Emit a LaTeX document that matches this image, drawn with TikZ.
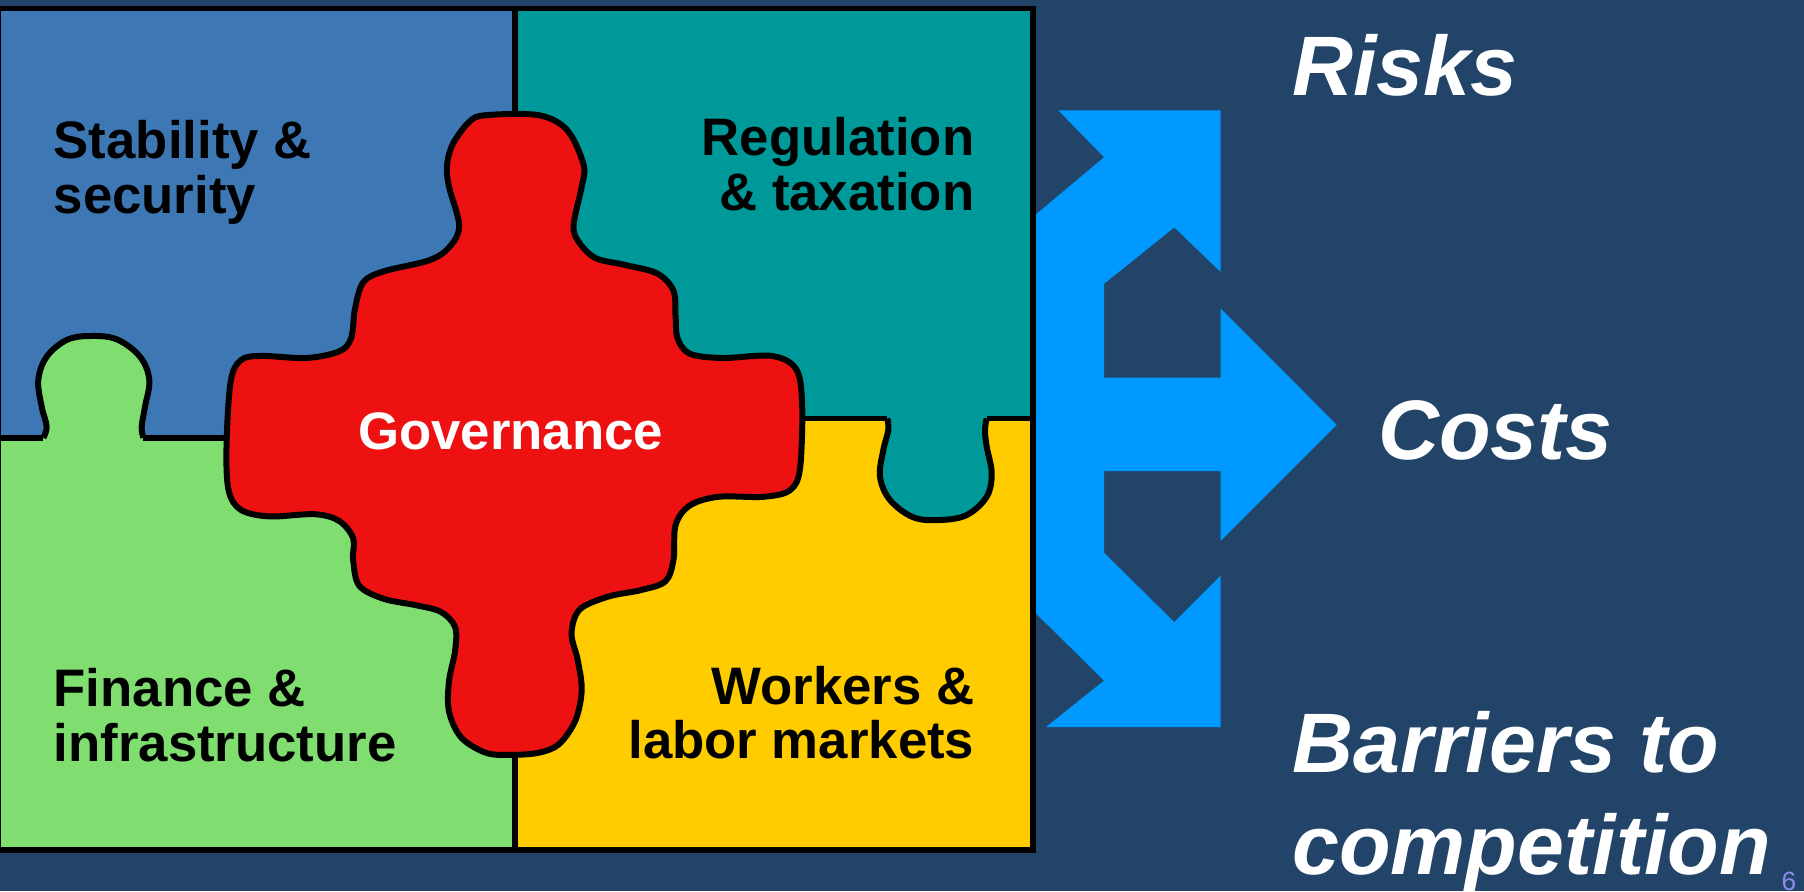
\documentclass[tikz,border=0pt]{standalone}
\usepackage{fontspec}
\setmainfont{Liberation Sans}
\usepackage{tikz}
\usetikzlibrary{positioning}
\definecolor{slide}{RGB}{34,68,104}
\definecolor{stabblue}{RGB}{62,120,180}
\definecolor{regteal}{RGB}{0,153,153}
\definecolor{fingreen}{RGB}{128,221,112}
\definecolor{workyellow}{RGB}{255,204,0}
\definecolor{govred}{RGB}{238,17,17}
\definecolor{flowblue}{RGB}{0,153,255}
\definecolor{pagenum}{RGB}{140,140,240}
\tikzset{
  every node/.style={
    inner sep=0pt
  },
  piece/.style={
    draw=black,
    line width=1.7pt,
    line join=round
  },
  seam/.style={
    draw=black,
    line width=1.7pt
  },
  field/.style={
    font=\fontsize{15}{15.4}\selectfont\bfseries,
    text=black
  },
  outcome/.style={
    font=\fontsize{24}{29}\selectfont\bfseries\itshape,
    text=white,
    anchor=base west,
    align=left
  }
}
% tab outlines
\def\greentab{(43.3,437.7) (46.7,426.7) (41.7,406.7) (38.3,380) (46.7,356.7) (66.7,340) (90,336) (116.7,339.3) (140,356.7) (149.3,380) (145,406.7) (141.7,426.7) (143.3,437.7)}
\def\tealtab{(887.3,418.5) (888.3,430) (883.3,450) (880,476.7) (890,500) (913.3,517.3) (940,520) (966.7,515) (986.7,496.7) (991.7,473.3) (986.7,446.7) (985,430) (986.7,418.5)}

\begin{document}
\begin{tikzpicture}[x=0.01cm,y=-0.01cm]

\fill[slide] (0,0) rectangle (1804,891);
\useasboundingbox (0,0) rectangle (1804,891);

% the four quarters
\fill[stabblue] (0,8.5) rectangle (515,437.7);
\fill[regteal] (515,8.5) rectangle (1033,418.5);
\fill[fingreen] (0,437.7) rectangle (515,849.5);
\fill[workyellow] (515,418.5) rectangle (1033,849.5);

% tabs
\fill[fingreen] plot[smooth, tension=0.6] coordinates {\greentab} -- (143.3,446) -- (43.3,446) -- cycle;
\draw[piece] plot[smooth, tension=0.6] coordinates {\greentab};
\fill[regteal] plot[smooth, tension=0.6] coordinates {\tealtab} -- (986.7,410) -- (887.3,410) -- cycle;
\draw[piece] plot[smooth, tension=0.6] coordinates {\tealtab};

% seams
\draw[seam] (0,437.7) -- (43.3,437.7) (143.3,437.7) -- (300,437.7);
\draw[seam] (700,418.5) -- (887.3,418.5) (986.7,418.5) -- (1033,418.5);
\draw[seam] (515,8.5) -- (515,849.5);

% governance piece
\filldraw[piece, fill=govred] plot[smooth cycle, tension=0.55] coordinates {
  (485.7,115.2) (538.8,115.2) (567.4,130.4) (583.7,165.1) (581.7,186.7)
  (573.5,225.8) (579.6,243.1) (596,258.3) (624.5,264.8) (657.2,273.5)
  (673.5,290.8) (675.6,316.9) (677.6,338.5) (689.8,353.7) (722.5,358)
  (771.5,355.9) (796,368.9) (802.1,403.6) (800,468.6) (789.9,490.3)
  (763.3,496.8) (718.4,496.8) (689.8,505.5) (675.6,525) (673.5,559.7)
  (665.3,581.4) (640.9,590.1) (608.2,596.6) (579.6,609.6) (571.5,633.5)
  (577.6,659.5) (581.7,689.8) (575.5,720.2) (559.2,744) (538.8,752.7)
  (510.2,754.9) (485.7,752.7) (461.2,737.5) (449,711.5) (449,681.2)
  (455.1,650.8) (455.1,627) (440.8,611.8) (416.3,605.3) (383.7,598.8)
  (359.2,585.7) (353.1,559.7) (353.1,538) (338.8,520.7) (314.3,514.2)
  (269.4,516.4) (240.8,509.8) (228.6,490.3) (226.5,447) (230.6,381.9)
  (240.8,360.2) (261.2,355.9) (306.1,358) (338.8,351.5) (351,338.5)
  (355.1,308.2) (363.3,282.2) (383.7,271.3) (428.6,260.5) (449,247.5)
  (459.2,225.8) (449,186.7) (447,165.1) (453.1,143.4) (469.4,121.7)};

% frame
\draw[seam] (-1.5,8.5) rectangle (1033,849.5);

% labels (base = last line)
\node[field, anchor=base west, align=left] (stability) at (53,213) {Stability \&\\security};
\node[field, anchor=base east, align=right] (regulation) at (975,210) {Regulation\\\& taxation};
\node[field, anchor=base west, align=left] (finance) at (53,761) {Finance \&\\infrastructure};
\node[field, anchor=base east, align=right] (workers) at (975,758.6) {Workers \&\\labor markets};
\node[field, text=white, anchor=base] (governance) at (510.7,449) {Governance};

% the branching arrow
\fill[flowblue] (1058.3,110.4) -- (1220.7,110.4) -- (1220.7,272.1) -- (1174.3,227.4)
  -- (1104,283.8) -- (1104,377.5) -- (1220.7,377.5) -- (1220.7,308.5)
  -- (1336.7,424.8) -- (1220.7,541) -- (1220.7,471.2) -- (1104,471.2)
  -- (1104,552.7) -- (1174.3,622.1) -- (1220.7,575.7) -- (1220.7,727)
  -- (1046,727) -- (1104,680.6) -- (1036,613.4) -- (1036,214.4)
  -- (1104,157.2) -- cycle;

\node[outcome] (risks) at (1291.7,95.5) {Risks};
\node[outcome] (costs) at (1377.6,459) {Costs};
\node[outcome] (barriers) at (1291.7,874) {Barriers to\\competition};
\node[font=\fontsize{7.5}{8}\selectfont, text=pagenum, anchor=base west] (page) at (1781,890) {6};

\end{tikzpicture}
\end{document}
